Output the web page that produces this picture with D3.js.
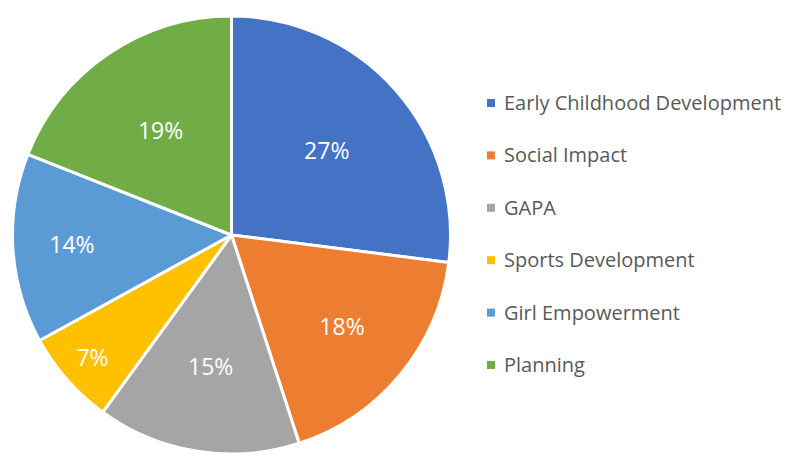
<!DOCTYPE html>
<html>
<head>
<meta charset="utf-8">
<script src="https://d3js.org/d3.v7.min.js"></script>
<style>
  body { margin: 0; background: #fff; }
  svg { display: block; font-family: "Open Sans", "Liberation Sans", sans-serif; }
</style>
</head>
<body>
<svg id="chart" width="811" height="461"></svg>
<script>
var categories = ['Early Childhood Development', 'Social Impact', 'GAPA', 'Sports Development', 'Girl Empowerment', 'Planning'];
var values = [27, 18, 15, 7, 14, 19];
var colors = ['#4472C4', '#ED7D31', '#A5A5A5', '#FFC000', '#5B9BD5', '#70AD47'];

var width = 811, height = 461,
    cx = 231.5, cy = 235, radius = 219;

// how far out each data label sits, as a share of the radius (Excel "best fit")
var labelFit = [0.58, 0.655, 0.607, 0.846, 0.73, 0.576];

var svg = d3.select('#chart');

var data = categories.map(function (c, i) { return { name: c, value: values[i], color: colors[i], fit: labelFit[i] }; });

var pie = d3.pie().sort(null).value(function (d) { return d.value; });
var arc = d3.arc().innerRadius(0).outerRadius(radius);

var total = d3.sum(values);
var g = svg.append('g').attr('transform', 'translate(' + cx + ',' + cy + ')');

var arcs = pie(data);

g.selectAll('path')
  .data(arcs)
  .enter().append('path')
  .attr('d', arc)
  .attr('fill', function (d) { return d.data.color; })
  .attr('stroke', '#fff')
  .attr('stroke-width', 3)
  .attr('stroke-linejoin', 'round');

g.selectAll('text.lbl')
  .data(arcs)
  .enter().append('text')
  .attr('class', 'lbl')
  .attr('transform', function (d) {
    var r = radius * d.data.fit;
    var c = d3.arc().innerRadius(r).outerRadius(r).centroid(d);
    return 'translate(' + c + ')';
  })
  .attr('text-anchor', 'middle')
  .attr('dy', '0.36em')
  .attr('fill', '#fff')
  .style('font-size', '23px')
  .text(function (d) { return Math.round(d.data.value / total * 100) + '%'; });

// legend
var legendY = d3.scalePoint().domain(categories).range([103, 365]);
var legend = svg.append('g');
var items = legend.selectAll('g')
  .data(data)
  .enter().append('g')
  .attr('transform', function (d) { return 'translate(487,' + legendY(d.name) + ')'; });

items.append('rect')
  .attr('x', 0).attr('y', -4)
  .attr('width', 8).attr('height', 8)
  .attr('fill', function (d) { return d.color; });

items.append('text')
  .attr('x', 17)
  .attr('dy', '0.35em')
  .attr('fill', '#595959')
  .style('font-size', '20px')
  .text(function (d) { return d.name; });
</script>
</body>
</html>
